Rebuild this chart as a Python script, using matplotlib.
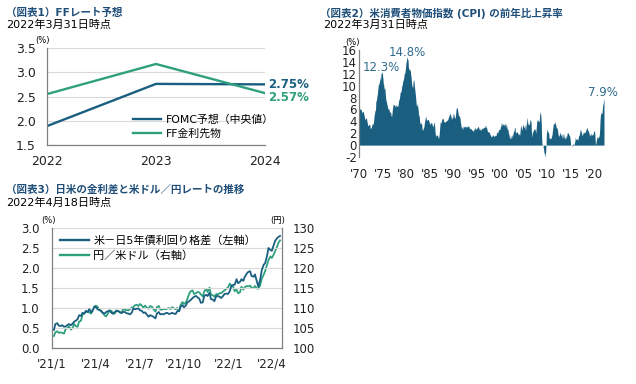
"""Three-panel chart: FF rate outlook, US CPI YoY, US-JP 5y spread vs USD/JPY."""
import numpy as np
import pandas as pd
import matplotlib
matplotlib.use("Agg")
import matplotlib.pyplot as plt

plt.rcParams["font.family"] = ["DejaVu Sans", "Noto Sans CJK JP"]
plt.rcParams["axes.unicode_minus"] = False

BLUE = "#1A5F80"
GREEN = "#2FA07D"
TITLE = "#1F4E79"
GRID = "#d9d9d9"
SPINE = "#808080"

# panel 1: FF rate outlook
ff_years = [2022, 2023, 2024]
fomc_median = [1.89, 2.76, 2.75]
ff_futures = [2.55, 3.17, 2.57]

# panel 2: US CPI YoY, monthly from Jan 1970 to Feb 2022
cpi = [
    6.2, 6.1, 6.1, 6.1, 6.0, 6.0, 5.9, 5.4, 5.6, 5.6, 5.7, 5.6,
    5.3, 5.0, 4.7, 4.2, 4.4, 4.6, 4.4, 4.6, 4.1, 3.8, 3.3, 3.3,
    3.3, 3.5, 3.5, 3.5, 3.2, 2.7, 2.9, 2.9, 3.2, 3.4, 3.7, 3.4,
    3.6, 3.9, 4.6, 5.1, 5.5, 6.0, 5.7, 7.4, 7.4, 7.8, 8.3, 8.7,
    9.4, 10.0, 10.4, 10.1, 10.7, 10.9, 11.5, 10.9, 11.9, 12.1, 12.2, 12.3,
    11.8, 11.2, 10.3, 10.2, 9.5, 9.4, 9.7, 8.6, 7.9, 7.4, 7.4, 6.9,
    6.7, 6.3, 6.1, 6.0, 6.2, 5.9, 5.4, 5.7, 5.5, 5.4, 4.9, 4.8,
    5.2, 5.9, 6.4, 6.9, 6.7, 6.9, 6.8, 6.6, 6.6, 6.4, 6.7, 6.7,
    6.8, 6.4, 6.6, 6.5, 6.9, 7.4, 7.7, 7.8, 8.3, 8.9, 8.9, 9.0,
    9.3, 9.9, 10.1, 10.5, 10.9, 10.9, 11.3, 11.8, 12.2, 12.1, 12.6, 13.3,
    13.9, 14.2, 14.8, 14.7, 14.4, 14.4, 13.1, 12.9, 12.6, 12.8, 12.6, 12.5,
    11.8, 11.4, 10.5, 10.0, 9.8, 9.6, 10.8, 10.8, 11.0, 10.1, 9.6, 8.9,
    8.4, 7.6, 6.8, 6.5, 6.7, 7.1, 6.4, 5.9, 5.0, 5.1, 4.6, 3.8,
    3.7, 3.5, 3.6, 3.9, 3.5, 2.6, 2.5, 2.6, 2.9, 2.9, 3.3, 3.8,
    4.2, 4.6, 4.8, 4.6, 4.2, 4.2, 4.2, 4.3, 4.3, 4.3, 4.1, 3.9,
    3.5, 3.5, 3.7, 3.7, 3.8, 3.8, 3.6, 3.3, 3.1, 3.2, 3.5, 3.8,
    3.9, 3.1, 2.3, 1.6, 1.5, 1.8, 1.6, 1.6, 1.8, 1.5, 1.3, 1.1,
    1.5, 2.1, 3.0, 3.8, 3.9, 3.7, 3.9, 4.3, 4.4, 4.5, 4.5, 4.4,
    4.0, 3.9, 3.9, 3.9, 3.9, 4.0, 4.1, 4.0, 4.2, 4.2, 4.2, 4.4,
    4.7, 4.8, 5.0, 5.1, 5.4, 5.2, 5.0, 4.7, 4.3, 4.5, 4.7, 4.6,
    5.2, 5.3, 5.2, 4.7, 4.4, 4.7, 4.8, 5.6, 6.2, 6.3, 6.3, 6.1,
    5.7, 5.3, 4.9, 4.9, 5.0, 4.7, 4.4, 3.8, 3.4, 2.9, 3.0, 3.1,
    2.6, 2.8, 3.2, 3.2, 3.0, 3.1, 3.2, 3.1, 3.0, 3.2, 3.0, 2.9,
    3.3, 3.2, 3.1, 3.2, 3.2, 3.0, 2.8, 2.8, 2.7, 2.8, 2.7, 2.7,
    2.5, 2.5, 2.5, 2.4, 2.3, 2.5, 2.8, 2.9, 3.0, 2.6, 2.7, 2.7,
    2.8, 2.9, 2.9, 3.1, 3.2, 3.0, 2.8, 2.6, 2.5, 2.8, 2.6, 2.5,
    2.7, 2.7, 2.8, 2.9, 2.9, 2.8, 3.0, 2.9, 3.0, 3.0, 3.3, 3.3,
    3.0, 3.0, 2.8, 2.5, 2.2, 2.3, 2.2, 2.2, 2.2, 2.1, 1.8, 1.7,
    1.6, 1.4, 1.4, 1.4, 1.7, 1.7, 1.7, 1.6, 1.5, 1.5, 1.5, 1.6,
    1.7, 1.6, 1.7, 2.3, 2.1, 2.0, 2.1, 2.3, 2.6, 2.6, 2.6, 2.7,
    2.7, 3.2, 3.8, 3.1, 3.2, 3.7, 3.7, 3.4, 3.5, 3.4, 3.4, 3.4,
    3.7, 3.5, 2.9, 3.3, 3.6, 3.2, 2.7, 2.7, 2.6, 2.1, 1.9, 1.6,
    1.1, 1.1, 1.5, 1.6, 1.2, 1.1, 1.5, 1.8, 1.5, 2.0, 2.2, 2.4,
    2.6, 3.0, 3.0, 2.2, 2.1, 2.1, 2.1, 2.2, 2.3, 2.0, 1.8, 1.9,
    1.9, 1.7, 1.7, 2.3, 3.1, 3.3, 3.0, 2.7, 2.5, 3.2, 3.5, 3.3,
    3.0, 3.0, 3.1, 3.5, 2.8, 2.5, 3.2, 3.6, 4.7, 4.3, 3.5, 3.4,
    4.0, 3.6, 3.4, 3.5, 4.2, 4.3, 4.1, 3.8, 2.1, 1.3, 2.0, 2.5,
    2.1, 2.4, 2.8, 2.6, 2.7, 2.7, 2.4, 2.0, 2.8, 3.5, 4.3, 4.1,
    4.3, 4.0, 4.0, 3.9, 4.2, 5.0, 5.6, 5.4, 4.9, 3.7, 1.1, 0.1,
    0.0, 0.2, -0.4, -0.7, -1.3, -1.4, -2.1, -1.5, -1.3, -0.2, 1.8, 2.7,
    2.6, 2.1, 2.3, 2.2, 2.0, 1.1, 1.2, 1.1, 1.1, 1.2, 1.1, 1.5,
    1.6, 2.1, 2.7, 3.2, 3.6, 3.6, 3.6, 3.8, 3.9, 3.5, 3.4, 3.0,
    2.9, 2.9, 2.7, 2.3, 1.7, 1.7, 1.4, 1.7, 2.0, 2.2, 1.8, 1.7,
    1.6, 2.0, 1.5, 1.1, 1.4, 1.8, 2.0, 1.5, 1.2, 1.0, 1.2, 1.5,
    1.6, 1.1, 1.5, 2.0, 2.1, 2.1, 2.0, 1.7, 1.7, 1.7, 1.3, 0.8,
    -0.1, 0.0, -0.1, -0.2, 0.0, 0.1, 0.2, 0.2, 0.0, 0.2, 0.5, 0.7,
    1.4, 1.0, 0.9, 1.1, 1.0, 1.0, 0.8, 1.1, 1.5, 1.6, 1.7, 2.1,
    2.5, 2.7, 2.4, 2.2, 1.9, 1.6, 1.7, 1.9, 2.2, 2.0, 2.2, 2.1,
    2.1, 2.2, 2.4, 2.5, 2.8, 2.9, 2.9, 2.7, 2.3, 2.5, 2.2, 1.9,
    1.6, 1.5, 1.9, 2.0, 1.8, 1.6, 1.8, 1.7, 1.7, 1.8, 2.1, 2.3,
    2.5, 2.3, 1.5, 0.3, 0.1, 0.6, 1.0, 1.3, 1.4, 1.2, 1.2, 1.4,
    1.4, 1.7, 2.6, 4.2, 5.0, 5.4, 5.4, 5.3, 5.4, 6.2, 6.8, 7.0,
    7.5, 7.9,
]
cpi_ticks = list(range(1970, 2021, 5))
cpi_tick_labels = ["'70", "'75", "'80", "'85", "'90", "'95", "'00", "'05", "'10", "'15", "'20"]
cpi_notes = [(1974.7, 12.3, "12.3%", 0.7), (1980.2, 14.8, "14.8%", 0.7), (2021.9, 7.9, "7.9%", 0.9)]

# panel 3: US-JP 5y yield spread (%) and USD/JPY, Tue/Fri each week from 2021-01-05
spread_tue_fri = [
    (0.45, 0.60), (0.62, 0.56), (0.55, 0.57), (0.53, 0.54),
    (0.57, 0.60), (0.57, 0.60), (0.66, 0.68), (0.72, 0.82),
    (0.80, 0.88), (0.86, 0.93), (0.90, 0.97), (0.89, 0.93),
    (1.04, 1.02), (0.96, 0.95), (0.93, 0.88), (0.86, 0.90),
    (0.92, 0.94), (0.88, 0.86), (0.90, 0.92), (0.93, 0.90),
    (0.88, 0.90), (0.90, 0.87), (0.86, 0.84), (0.88, 0.98),
    (0.97, 0.98), (0.99, 0.94), (0.93, 0.88), (0.89, 0.84),
    (0.78, 0.82), (0.80, 0.78), (0.74, 0.86), (0.90, 0.84),
    (0.85, 0.84), (0.87, 0.88), (0.85, 0.86), (0.88, 0.86),
    (0.85, 0.92), (0.92, 1.03), (1.07, 1.02), (1.06, 1.14),
    (1.17, 1.20), (1.25, 1.28), (1.30, 1.27), (1.23, 1.13),
    (1.14, 1.30), (1.33, 1.30), (1.38, 1.22), (1.21, 1.17),
    (1.30, 1.30), (1.28, 1.25), (1.30, 1.35), (1.36, 1.35),
    (1.42, 1.55), (1.58, 1.58), (1.72, 1.62), (1.65, 1.72),
    (1.68, 1.78), (1.86, 1.90), (1.92, 1.80), (1.78, 1.84),
    (1.66, 1.53), (1.72, 1.94), (2.08, 2.12), (2.30, 2.50),
    (2.45, 2.43), (2.58, 2.68), (2.75, 2.78),
]
usdjpy_tue_fri = [
    (103.0, 103.9), (104.2, 103.8), (103.9, 103.8), (103.6, 104.7),
    (105.0, 105.4), (104.6, 104.9), (106.0, 105.5), (105.3, 106.6),
    (106.8, 108.3), (108.7, 109.0), (109.1, 108.9), (108.6, 109.6),
    (110.3, 110.6), (110.2, 109.6), (109.1, 108.8), (108.1, 107.9),
    (108.7, 109.3), (109.3, 108.6), (108.6, 109.4), (109.2, 108.9),
    (108.7, 109.8), (109.5, 109.5), (109.4, 109.7), (110.1, 110.2),
    (110.7, 110.8), (110.5, 111.0), (110.6, 110.1), (110.6, 110.1),
    (109.8, 110.5), (110.3, 109.7), (109.1, 110.2), (110.5, 109.6),
    (109.6, 109.8), (109.7, 109.8), (110.0, 109.7), (110.2, 109.9),
    (109.7, 110.0), (109.2, 110.7), (111.5, 111.0), (111.4, 112.2),
    (113.6, 114.2), (114.4, 113.5), (113.7, 114.0), (113.9, 113.4),
    (112.9, 114.1), (114.8, 114.0), (115.1, 113.3), (113.2, 112.8),
    (113.5, 113.4), (113.7, 113.7), (114.1, 114.4), (114.8, 115.1),
    (116.1, 115.6), (115.3, 114.2), (114.6, 113.7), (113.9, 115.3),
    (114.6, 115.2), (115.5, 115.4), (115.6, 115.0), (115.0, 115.5),
    (114.9, 114.8), (115.7, 117.3), (118.3, 119.2), (120.8, 122.0),
    (122.9, 122.5), (123.4, 124.3), (125.4, 126.4),
]
last_date, last_spread, last_usdjpy = "2022-04-18", 2.80, 126.9
fx_ticks = ["2021-01-01", "2021-04-01", "2021-07-01", "2021-10-01", "2022-01-01", "2022-04-01"]
fx_tick_labels = ["'21/1", "'21/4", "'21/7", "'21/10", "'22/1", "'22/4"]

W, H = 636, 384


def rect(x0, y0, x1, y1):
    return [x0 / W, 1 - y1 / H, (x1 - x0) / W, (y1 - y0) / H]


def ftext(x, y, s, **kw):
    kw.setdefault("va", "center")
    fig.text(x / W, 1 - y / H, s, **kw)


def style(ax, left=True, bottom=True, right=False, size=8.5):
    for s in ax.spines.values():
        s.set_visible(False)
    for name, on in (("left", left), ("bottom", bottom), ("right", right)):
        if on:
            ax.spines[name].set_visible(True)
            ax.spines[name].set_color(SPINE)
            ax.spines[name].set_linewidth(0.9)
    ax.tick_params(length=0, labelsize=size, colors="#222222")


fig = plt.figure(figsize=(W / 100, H / 100), dpi=100)

# titles
ftext(6, 13, "（図表1）FFレート予想", fontsize=7.6, weight="bold", color=TITLE)
ftext(6, 25, "2022年3月31日時点", fontsize=8)
ftext(320, 13, "（図表2）米消費者物価指数 (CPI) の前年比上昇率", fontsize=7.6, weight="bold", color=TITLE)
ftext(323, 25, "2022年3月31日時点", fontsize=8)
ftext(6, 190, "（図表3）日米の金利差と米ドル／円レートの推移", fontsize=7.6, weight="bold", color=TITLE)
ftext(6, 203, "2022年4月18日時点", fontsize=8)

# panel 1
ax1 = fig.add_axes(rect(47, 48, 265, 145))
style(ax1, size=9)
ax1.tick_params(axis="y", pad=8)
ax1.tick_params(axis="x", pad=7)
ax1.plot(ff_years, fomc_median, color=BLUE, lw=1.7, label="FOMC予想（中央値）")
ax1.plot(ff_years, ff_futures, color=GREEN, lw=1.7, label="FF金利先物")
ax1.set_xlim(2022, 2024)
ax1.set_ylim(1.5, 3.5)
ax1.set_xticks(ff_years)
ax1.set_yticks(np.arange(1.5, 3.51, 0.5))
ax1.yaxis.grid(True, color=GRID, lw=0.8)
ax1.set_axisbelow(True)
ax1.text(2024.03, fomc_median[-1], f"{fomc_median[-1]:.2f}%", color=BLUE, fontsize=8.5, weight="bold", va="center")
ax1.text(2024.03, ff_futures[-1] - 0.1, f"{ff_futures[-1]:.2f}%", color=GREEN, fontsize=8.5, weight="bold", va="center")
ftext(42, 40, "(%)", fontsize=6, ha="center")
ax1.legend(loc="lower right", bbox_to_anchor=(1.04, 0.06), frameon=False, fontsize=7.8,
           borderaxespad=0, borderpad=0, handlelength=2.6, handletextpad=0.4, labelspacing=0.35)

# panel 2
ax2 = fig.add_axes(rect(359, 50, 605, 157))
style(ax2, bottom=False)
ax2.tick_params(axis="y", pad=1.5)
ax2.tick_params(axis="x", pad=8)
months = 1970 + np.arange(len(cpi)) / 12
ax2.fill_between(months, cpi, 0, color=BLUE, lw=0)
ax2.set_xlim(1970, 2022.3)
ax2.set_ylim(-2, 16)
ax2.set_yticks(range(-2, 17, 2))
ax2.set_xticks(cpi_ticks)
ax2.set_xticklabels(cpi_tick_labels)
for x, y, s, dy in cpi_notes:
    ax2.text(x, y + dy, s, ha="center", va="center", fontsize=8.5, color="#2E6B8C")
ftext(352, 42, "(%)", fontsize=6, ha="center")

# panel 3
tues = pd.date_range("2021-01-05", periods=len(spread_tue_fri), freq="7D")
fx_dates = []
spread = []
usdjpy = []
for t, (s1, s2), (j1, j2) in zip(tues, spread_tue_fri, usdjpy_tue_fri):
    fx_dates += [t, t + pd.Timedelta(days=3)]
    spread += [s1, s2]
    usdjpy += [j1, j2]
fx_dates.append(pd.Timestamp(last_date))
spread.append(last_spread)
usdjpy.append(last_usdjpy)

ax3 = fig.add_axes(rect(52, 228, 282, 348))
style(ax3, right=True)
ax3.tick_params(axis="y", pad=9)
ax3.tick_params(axis="x", pad=7)
ax3b = ax3.twinx()
for s in ax3b.spines.values():
    s.set_visible(False)
ax3b.tick_params(length=0, labelsize=8.5, colors="#222222", pad=8)
ax3b.plot(fx_dates, usdjpy, color=GREEN, lw=1.3)
ax3.plot(fx_dates, spread, color=BLUE, lw=1.3, zorder=3)
ax3.set_zorder(ax3b.get_zorder() + 1)
ax3.patch.set_visible(False)
ax3.set_xlim(pd.Timestamp("2021-01-01"), pd.Timestamp("2022-04-22"))
ax3.set_ylim(0, 3)
ax3b.set_ylim(100, 130)
ax3.set_yticks(np.arange(0, 3.01, 0.5))
ax3.set_yticklabels([f"{v:.1f}" for v in np.arange(0, 3.01, 0.5)])
ax3b.set_yticks(range(100, 131, 5))
ax3.set_xticks(pd.to_datetime(fx_ticks))
ax3.set_xticklabels(fx_tick_labels)
ax3.yaxis.grid(True, color=GRID, lw=0.8)
ax3.set_axisbelow(True)
ftext(48, 220, "(%)", fontsize=6, ha="center")
ftext(278, 220, "(円)", fontsize=6, ha="center")
h1 = plt.Line2D([], [], color=BLUE, lw=1.7)
h2 = plt.Line2D([], [], color=GREEN, lw=1.7)
ax3.legend([h1, h2], ["米－日5年債利回り格差（左軸）", "円／米ドル（右軸）"], loc="upper left",
           bbox_to_anchor=(0.035, 0.94), frameon=False, fontsize=8, borderaxespad=0,
           borderpad=0, handlelength=2.6, handletextpad=0.4, labelspacing=0.35)

fig.savefig("out.png", dpi=100)
